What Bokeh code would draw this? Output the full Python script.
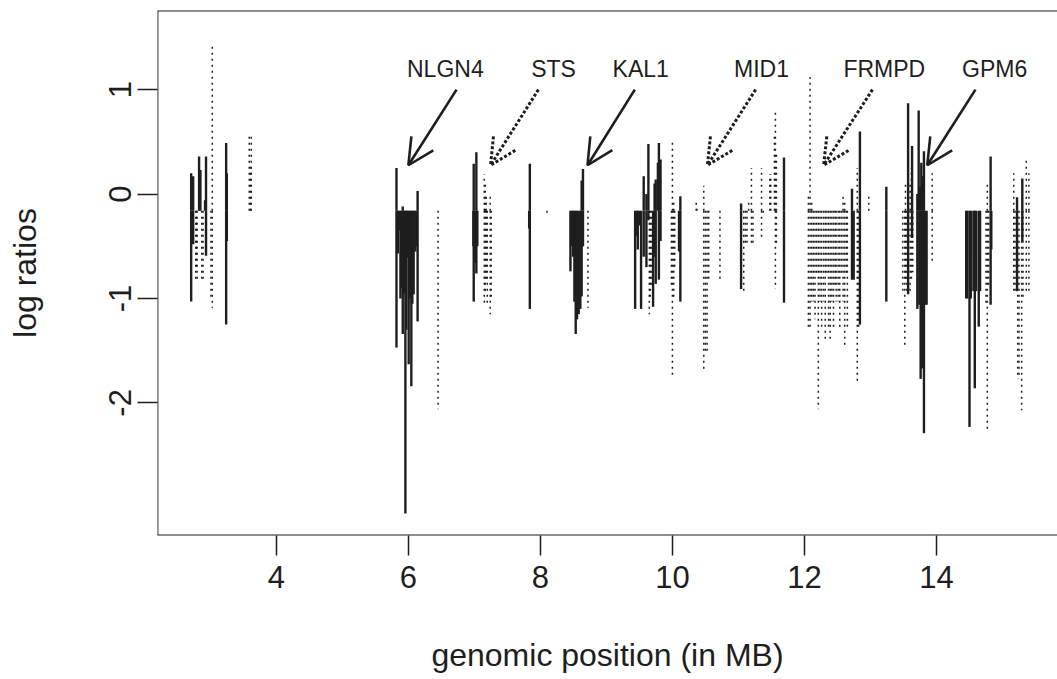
from bokeh.plotting import figure
from bokeh.models import ColumnDataSource, Range1d, FixedTicker, Span, Arrow, OpenHead
from bokeh.core.properties import value
from bokeh.embed import file_html
from bokeh.resources import INLINE

# ---------------- data ----------------
BASELINE = -0.16   # reference level from which every probe segment is drawn

x_ticks = [4, 6, 8, 10, 12, 14]
y_ticks = [-2, -1, 0, 1]
y_tick_labels = ["-2", "-1", "0", "1"]

# probes drawn as solid segments (position in MB, log ratio)
solid_x = [
    2.71, 2.71, 2.74, 2.74, 2.83, 2.85, 2.92, 2.935, 2.935, 3.24, 3.24, 3.25, 3.25,
    5.82, 5.82, 5.84, 5.86, 5.88, 5.90, 5.915, 5.915, 5.935, 5.955, 5.97, 5.985,
    6.005, 6.025, 6.045, 6.06, 6.08, 6.105, 6.12, 6.14, 6.14,
    6.99, 6.99, 7.03, 7.03, 6.985, 7.01, 7.045, 7.84, 7.84, 7.83,
    8.455, 8.475, 8.495, 8.515, 8.535, 8.555, 8.58, 8.605, 8.625, 8.625, 8.645, 8.645,
    9.435, 9.455, 9.475, 9.495, 9.525, 9.565, 9.565, 9.606, 9.606, 9.636, 9.636,
    9.707, 9.73, 9.73, 9.747, 9.747, 9.78, 9.795, 9.795, 9.82, 9.82,
    10.12, 10.12, 10.10,
    11.04, 11.04, 11.69, 11.69,
    12.72, 12.72, 12.745, 12.84, 12.84, 13.24, 13.24,
    13.57, 13.57, 13.63, 13.63, 13.71, 13.71, 13.73, 13.74, 13.75, 13.76, 13.77,
    13.78, 13.79, 13.80, 13.81, 13.81, 13.83, 13.85,
    14.45, 14.465, 14.50, 14.52, 14.56, 14.58, 14.60, 14.64, 14.66,
    14.82, 14.82, 14.83, 15.22, 15.22, 15.30, 15.30,
]
solid_y = [
    0.20, -1.03, 0.17, -0.48, 0.36, 0.23, -0.06, 0.36, -0.59, 0.49, -1.25, 0.20, -0.45,
    0.25, -1.47, -0.57, -0.35, -1.00, -0.90, -1.34, -0.12, -0.95, -3.06, -1.30, -0.61,
    -1.63, -1.00, -1.84, -1.05, -0.96, -0.55, -0.50, 0.03, -1.22,
    0.29, -1.03, 0.40, -0.76, -0.50, -0.66, -0.50, 0.29, -1.10, -0.33,
    -0.74, -0.50, -0.60, -1.03, -1.34, -1.20, -1.15, -1.10, 0.13, -0.98, 0.24, -0.50,
    -1.10, -0.40, -0.53, -0.30, -1.10, 0.17, -0.60, 0.00, -0.70, 0.48, -0.25,
    -1.08, 0.10, -0.60, 0.14, -0.86, 0.30, 0.49, -0.82, 0.33, -0.45,
    -0.02, -1.03, -0.55,
    -0.09, -0.91, 0.35, -1.04,
    0.05, -0.82, -0.82, 0.60, -1.25, 0.07, -1.03,
    0.87, -0.96, 0.46, -0.42, 0.00, -1.10, 0.80, -1.06, 0.07, -1.77, 0.30,
    -1.67, 0.17, -1.06, 0.41, -2.29, -1.06, -1.06,
    -1.00, -1.00, -2.23, -1.00, -0.93, -1.86, -0.93, -1.27, -0.93,
    0.36, -1.06, -0.53, -0.03, -0.93, 0.15, -0.45,
]

# probes drawn as dotted segments (position in MB, log ratio)
dotted_x = [
    2.78, 2.79, 2.80, 2.87, 2.89, 3.01, 3.03, 3.03, 3.59, 3.61, 3.62,
    6.45,
    7.15, 7.15, 7.165, 7.165, 7.18, 7.18, 7.195, 7.24, 7.24, 7.255, 8.10,
    8.72, 9.65, 9.665, 9.68, 9.985, 10.0, 10.0, 10.02, 10.02, 10.035,
    10.36, 10.37, 10.475, 10.475, 10.50, 10.525, 10.55, 10.72,
    11.08, 11.105, 11.13, 11.155, 11.197, 11.197, 11.22, 11.35, 11.35, 11.375,
    11.475, 11.49, 11.545, 11.56, 11.56, 11.575, 11.575,
    12.06, 12.06, 12.085, 12.085, 12.11, 12.11, 12.135, 12.16, 12.185, 12.21, 12.235, 12.26,
    12.29, 12.315, 12.34, 12.365, 12.39, 12.415, 12.44, 12.465, 12.48,
    12.51, 12.535, 12.56, 12.585, 12.585, 12.61, 12.61, 12.635, 12.65,
    12.80, 12.80, 12.82, 12.975,
    13.49, 13.52, 13.53, 13.53, 13.55, 13.57, 13.57, 13.60, 13.60, 13.62, 13.62, 13.64,
    13.935, 13.935,
    14.75, 14.77, 14.77, 14.79,
    15.17, 15.17, 15.19, 15.23, 15.25, 15.29, 15.31, 15.36, 15.36, 15.40, 15.40,
]
dotted_y = [
    -0.85, -0.70, -0.85, -0.85, -0.85, -1.00, 1.42, -1.09, 0.57, 0.27, 0.57,
    -2.06,
    0.19, -1.05, 0.12, -0.95, 0.00, -0.85, -1.05, 0.01, -1.15, -1.00, -0.19,
    -1.09, -1.15, -1.00, -0.90, -0.90, 0.50, -1.76, -0.05, -1.00, -0.70,
    -0.05, -0.10, 0.08, -1.70, -1.52, -1.52, -0.85, -0.85,
    -0.96, -0.50, -0.50, -0.05, 0.25, -0.48, -0.48, 0.25, -0.42, -0.20,
    0.19, 0.19, 0.57, 0.81, -0.91, 0.40, -0.50,
    -1.28, 0.01, 1.12, -1.28, -1.03, -0.05, -1.03, -1.20, -0.79, -2.06, -1.03, -1.28,
    -1.03, -1.39, -0.79, -1.28, -1.39, -1.03, -1.28, -0.90, -1.03,
    -1.03, -1.28, -0.79, -1.03, 0.01, -1.46, -0.05, -0.79, -1.28,
    0.25, -1.82, -1.30, 0.01,
    -0.93, -1.46, 0.10, -0.85, -0.93, 0.10, -0.70, 0.10, -0.93, 0.25, -0.85, -0.75,
    0.20, -0.66,
    -1.06, 0.10, -2.25, -0.90,
    0.20, -0.93, -0.93, -1.77, -1.77, -2.07, -1.00, 0.32, -0.93, 0.20, -0.93,
]

# highlighted genes: label, label position, arrow tail and head (data units), style
genes = ["NLGN4", "STS", "KAL1", "MID1", "FRMPD", "GPM6"]
gene_label_x = [6.56, 8.20, 9.52, 11.35, 13.21, 14.88]
gene_label_y = [1.20, 1.20, 1.20, 1.20, 1.20, 1.20]
arrow_x0 = [6.73, 7.97, 9.43, 11.26, 13.03, 14.59]
arrow_y0 = [1.00, 1.00, 1.00, 1.00, 1.00, 1.00]
arrow_x1 = [6.00, 7.245, 8.714, 10.53, 12.29, 13.86]
arrow_y1 = [0.276, 0.276, 0.276, 0.276, 0.276, 0.276]
arrow_dotted = [False, True, False, True, True, False]

# ---------------- figure ----------------
X0, X1 = 2.20, 15.833
Y0, Y1 = -3.27, 1.758
INK = "#1e1e1e"
FONT = "Liberation Sans"

p = figure(width=1057, height=679, x_range=Range1d(X0, X1), y_range=Range1d(Y0, Y1),
           output_backend="svg", toolbar_location=None,
           min_border_left=157, min_border_right=0, min_border_top=10, min_border_bottom=144)
p.outline_line_color = None
p.grid.visible = False
p.background_fill_color = "white"
p.border_fill_color = "white"

for ax in (p.xaxis[0], p.yaxis[0]):
    ax.axis_line_color = None
    ax.major_tick_in = 0
    ax.major_tick_out = 20
    ax.major_tick_line_width = 1.5
    ax.major_tick_line_color = INK
    ax.minor_tick_line_color = None
    ax.major_label_text_font = FONT
    ax.major_label_text_font_size = "31px"
    ax.major_label_text_color = INK
    ax.axis_label_text_font = FONT
    ax.axis_label_text_font_size = "32px"
    ax.axis_label_text_font_style = "normal"
    ax.axis_label_text_color = INK

p.xaxis.ticker = FixedTicker(ticks=x_ticks)
p.xaxis.axis_label = "genomic position (in MB)"
p.xaxis.major_label_standoff = 10
p.xaxis.axis_label_standoff = 46

p.yaxis.ticker = FixedTicker(ticks=y_ticks)
p.yaxis.major_label_overrides = {t: s for t, s in zip(y_ticks, y_tick_labels)}
p.yaxis.major_label_orientation = "vertical"
p.yaxis.axis_label = "log ratios"
p.yaxis.major_label_standoff = 6
p.yaxis.axis_label_standoff = 64

# box (left, top, bottom; right side lies outside the picture)
for loc, dim in ((Y0, "width"), (Y1, "width"), (X0, "height")):
    p.add_layout(Span(location=loc, dimension=dim, line_color=INK, line_width=1.8))

dsrc = ColumnDataSource(dict(x=dotted_x, y=dotted_y))
p.segment(x0="x", y0=BASELINE, x1="x", y1="y", source=dsrc,
          line_color=INK, line_width=1.5, line_dash="2 4")

ssrc = ColumnDataSource(dict(x=solid_x, y=solid_y))
p.segment(x0="x", y0=BASELINE, x1="x", y1="y", source=ssrc,
          line_color=INK, line_width=2.4)

for i in range(len(genes)):
    dash = "3 2" if arrow_dotted[i] else "solid"
    lw = 3.0 if arrow_dotted[i] else 2.6
    p.add_layout(Arrow(end=OpenHead(size=26, line_width=lw, line_color=INK, line_dash=dash),
                       x_start=arrow_x0[i], y_start=arrow_y0[i],
                       x_end=arrow_x1[i], y_end=arrow_y1[i],
                       line_color=INK, line_width=lw, line_dash=dash))

lsrc = ColumnDataSource(dict(x=gene_label_x, y=gene_label_y, t=genes))
p.text(x="x", y="y", text="t", source=lsrc, text_align="center", text_baseline="middle",
       text_font=value(FONT), text_font_size="23px", text_color=INK)

open("out.html", "w").write(file_html(p, INLINE))
